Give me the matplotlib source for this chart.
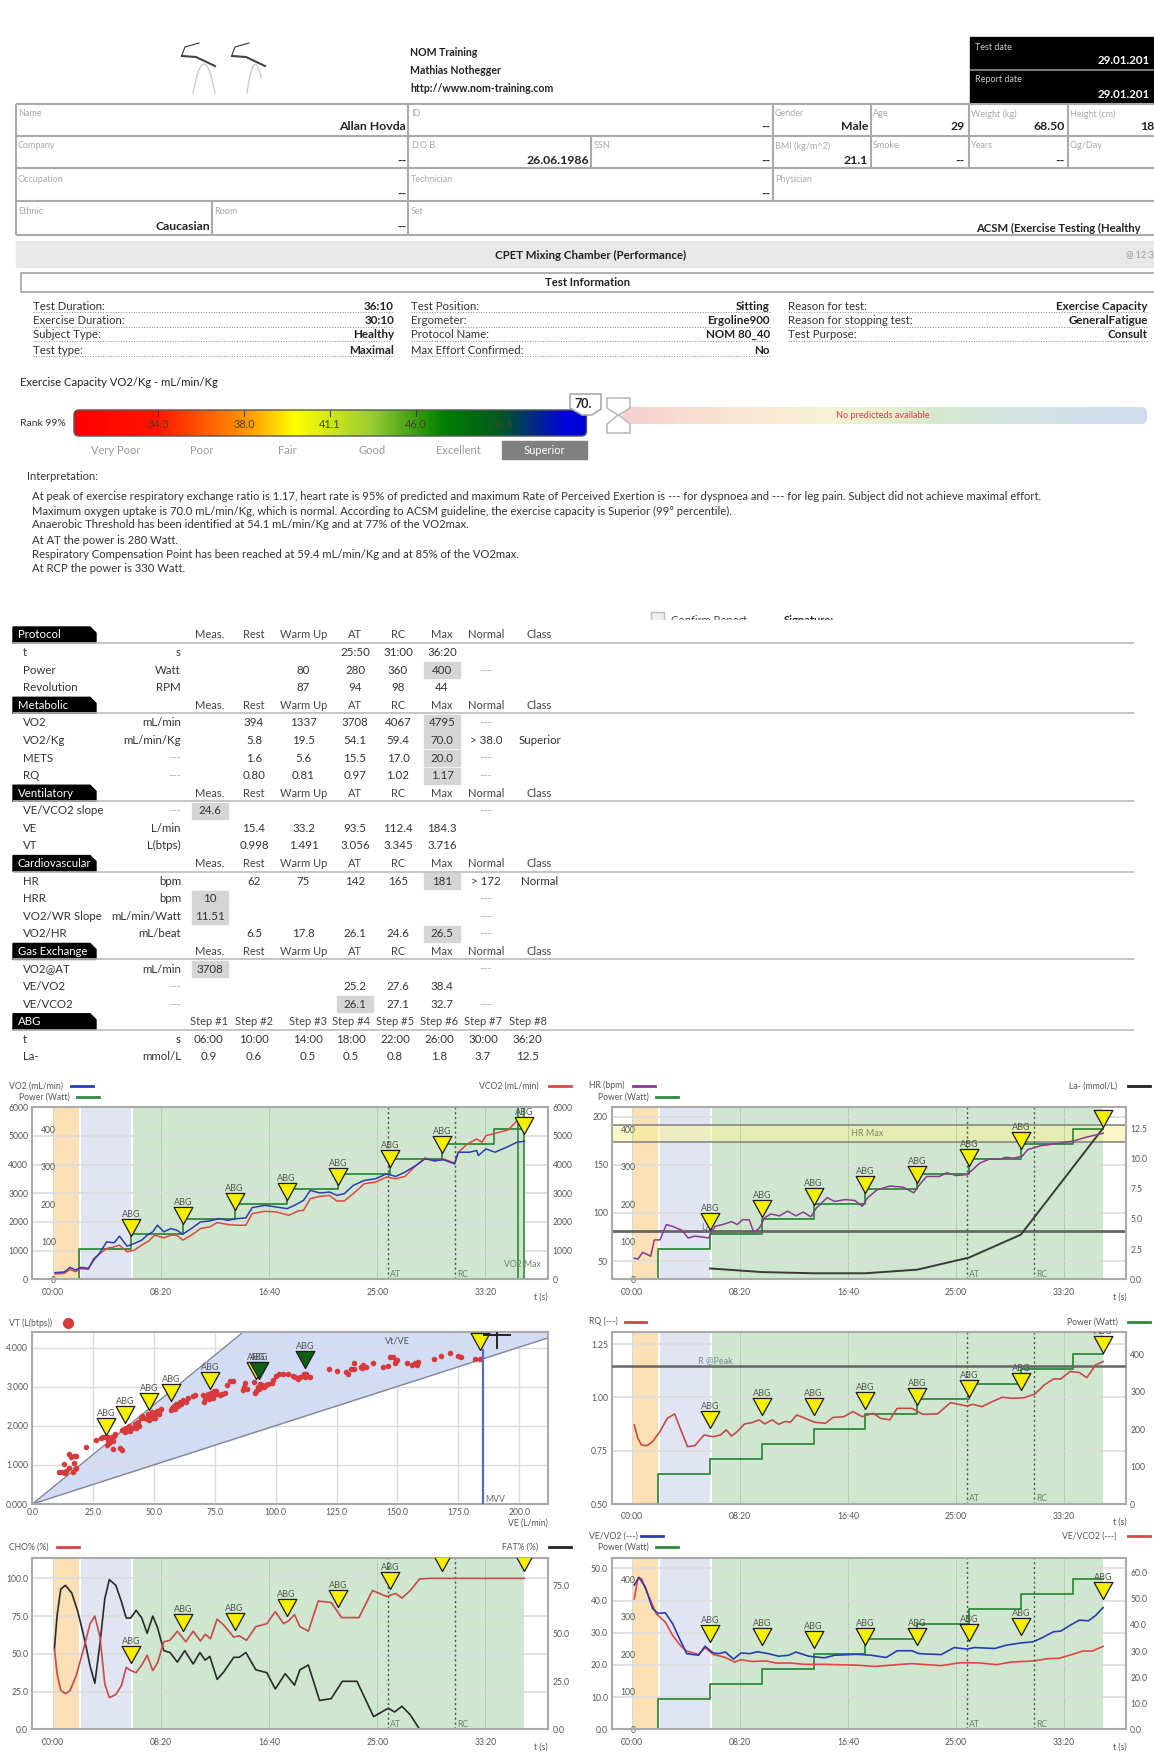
import numpy as np
import matplotlib
matplotlib.use("Agg")
import matplotlib.pyplot as plt
from matplotlib.colors import LinearSegmentedColormap
from matplotlib.patches import FancyBboxPatch, Polygon, Rectangle

plt.rcParams['font.family'] = ['Lato', 'Liberation Sans', 'DejaVu Sans']

# ---- report data
col_names = ["Meas.", "Rest", "Warm Up", "AT", "RC", "Max", "Normal", "Class"]
protocol_rows = [
    ("t", "s", ["", "", "", "25:50", "31:00", "36:20", "", ""], []),
    ("Power", "Watt", ["", "", "80", "280", "360", "400", "---", ""], [5]),
    ("Revolution", "RPM", ["", "", "87", "94", "98", "44", "", ""], []),
]
metabolic_rows = [
    ("VO2", "mL/min", ["", "394", "1337", "3708", "4067", "4795", "---", ""], [5]),
    ("VO2/Kg", "mL/min/Kg", ["", "5.8", "19.5", "54.1", "59.4", "70.0", "> 38.0", "Superior"], [5]),
    ("METS", "---", ["", "1.6", "5.6", "15.5", "17.0", "20.0", "---", ""], [5]),
    ("RQ", "---", ["", "0.80", "0.81", "0.97", "1.02", "1.17", "---", ""], [5]),
]
ventilatory_rows = [
    ("VE/VCO2 slope", "---", ["24.6", "", "", "", "", "", "---", ""], [0]),
    ("VE", "L/min", ["", "15.4", "33.2", "93.5", "112.4", "184.3", "", ""], []),
    ("VT", "L(btps)", ["", "0.998", "1.491", "3.056", "3.345", "3.716", "", ""], []),
]
cardio_rows = [
    ("HR", "bpm", ["", "62", "75", "142", "165", "181", "> 172", "Normal"], [5]),
    ("HRR", "bpm", ["10", "", "", "", "", "", "---", ""], [0]),
    ("VO2/WR Slope", "mL/min/Watt", ["11.51", "", "", "", "", "", "---", ""], [0]),
    ("VO2/HR", "mL/beat", ["", "6.5", "17.8", "26.1", "24.6", "26.5", "---", ""], [5]),
]
gas_rows = [
    ("VO2@AT", "mL/min", ["3708", "", "", "", "", "", "---", ""], [0]),
    ("VE/VO2", "---", ["", "", "", "25.2", "27.6", "38.4", "", ""], []),
    ("VE/VCO2", "---", ["", "", "", "26.1", "27.1", "32.7", "---", ""], [3]),
]
sections = [("Protocol", protocol_rows), ("Metabolic", metabolic_rows), ("Ventilatory", ventilatory_rows),
            ("Cardiovascular", cardio_rows), ("Gas Exchange", gas_rows)]
abg_steps = ["Step #1", "Step #2", "Step #3", "Step #4", "Step #5", "Step #6", "Step #7", "Step #8"]
abg_clock = ["06:00", "10:00", "14:00", "18:00", "22:00", "26:00", "30:00", "36:20"]
abg_la_text = ["0.9", "0.6", "0.5", "0.5", "0.8", "1.8", "3.7", "12.5"]

interpretation = [
    "At peak of exercise respiratory exchange ratio is 1.17, heart rate is 95% of predicted and maximum Rate of Perceived Exertion is --- for dyspnoea and --- for leg pain. Subject did not achieve maximal effort.",
    "Maximum oxygen uptake is 70.0 mL/min/Kg, which is normal. According to ACSM guideline, the exercise capacity is Superior (99° percentile).",
    "Anaerobic Threshold has been identified at 54.1 mL/min/Kg and at 77% of the VO2max.",
    "At AT the power is 280 Watt.",
    "Respiratory Compensation Point has been reached at 59.4 mL/min/Kg and at 85% of the VO2max.",
    "At RCP the power is 330 Watt.",
]
rank_ticks = ["34.3", "38.0", "41.1", "46.0", "50.6"]
rank_names = ["Very Poor", "Poor", "Fair", "Good", "Excellent", "Superior"]

# ---- chart data
abg_t = [360, 600, 840, 1080, 1320, 1560, 1800, 2180]
abg_la = [0.9, 0.6, 0.5, 0.5, 0.8, 1.8, 3.7, 12.5]
power_t = [120, 120, 360, 600, 840, 1080, 1320, 1560, 1800, 2040, 2180]
power_w = [0, 80, 120, 160, 200, 240, 280, 320, 360, 400, 400]

vo2_t = [9, 52, 78, 103, 129, 163, 188, 214, 248, 282, 307, 342, 376, 410, 435, 461, 483, 512, 546, 572, 600, 640, 682, 725, 767, 810, 853, 892, 921, 980, 1032, 1083, 1117, 1159, 1190, 1236, 1279, 1313, 1347, 1389, 1440, 1492, 1543, 1585, 1628, 1679, 1721, 1764, 1807, 1858, 1875, 1926, 1960, 1968, 2003, 2045, 2105, 2147, 2181]
vo2 = [231, 255, 417, 324, 417, 382, 671, 903, 1308, 1273, 1505, 1157, 1250, 1366, 1539, 1655, 1887, 1655, 1771, 1713, 1574, 1771, 2002, 2037, 2118, 2060, 2118, 2141, 2500, 2581, 2523, 2465, 2581, 2755, 3102, 3009, 3044, 2928, 2986, 3275, 3449, 3507, 3680, 3588, 3738, 3970, 4201, 4143, 4167, 4028, 4433, 4433, 4491, 4317, 4549, 4433, 4630, 4780, 4815]
vco2_t = [9, 52, 78, 103, 129, 163, 188, 222, 248, 282, 307, 342, 376, 410, 444, 469, 512, 546, 572, 600, 640, 682, 725, 759, 810, 853, 892, 921, 980, 1032, 1091, 1134, 1159, 1190, 1236, 1279, 1313, 1347, 1389, 1440, 1492, 1543, 1585, 1628, 1679, 1721, 1764, 1807, 1858, 1875, 1917, 1960, 1985, 2003, 2045, 2105, 2147, 2181]
vco2 = [185, 208, 347, 266, 370, 347, 729, 926, 1076, 1134, 1192, 961, 1019, 1192, 1343, 1539, 1447, 1539, 1539, 1366, 1539, 1771, 1829, 1979, 1910, 1887, 1887, 2292, 2373, 2350, 2234, 2384, 2407, 2813, 2894, 2928, 2731, 2731, 2986, 3333, 3391, 3565, 3507, 3588, 3970, 4236, 4120, 4201, 4051, 4433, 4722, 4896, 4780, 5012, 5093, 5208, 5532, 5590]

hr_t = [9, 26, 48, 68, 85, 102, 128, 158, 187, 230, 259, 290, 324, 354, 383, 418, 460, 486, 511, 542, 562, 588, 613, 642, 682, 719, 758, 792, 827, 852, 903, 937, 988, 1031, 1065, 1091, 1133, 1193, 1253, 1304, 1329, 1363, 1423, 1457, 1500, 1551, 1576, 1610, 1653, 1704, 1730, 1764, 1806, 1832, 1892, 1960, 2045, 2105, 2181]
hr = [53, 52, 59, 57, 55, 72, 72, 88, 86, 82, 74, 76, 75, 74, 86, 88, 91, 88, 93, 93, 80, 84, 95, 99, 97, 102, 97, 101, 96, 105, 116, 112, 114, 113, 107, 116, 124, 128, 127, 121, 129, 138, 138, 142, 139, 140, 145, 152, 156, 156, 158, 157, 159, 166, 170, 172, 175, 179, 183]

rq_t = [9, 26, 43, 68, 94, 128, 162, 196, 222, 256, 290, 332, 375, 409, 435, 460, 486, 520, 554, 588, 613, 648, 678, 707, 733, 762, 801, 844, 895, 929, 980, 1022, 1065, 1116, 1150, 1193, 1227, 1295, 1346, 1414, 1474, 1551, 1576, 1619, 1662, 1713, 1764, 1815, 1866, 1909, 1951, 1985, 2028, 2071, 2105, 2147, 2181]
rq = [.871, .808, .777, .774, .793, .84, .902, .923, .855, .769, .774, .824, .816, .824, .848, .819, .84, .876, .882, .895, .876, .895, .874, .887, .884, .918, .902, .884, .879, .906, .91, .934, .91, .926, .902, .895, .949, .949, .921, .923, .976, .96, .968, .957, .978, 1.001, .996, .999, 1.017, 1.059, 1.087, 1.087, 1.122, 1.117, 1.093, 1.153, 1.169]

cho_t = [6, 18, 35, 57, 78, 108, 146, 171, 193, 217, 239, 260, 290, 316, 338, 359, 384, 410, 435, 461, 483, 512, 541, 575, 614, 648, 682, 704, 728, 759, 790, 836, 861, 895, 938, 989, 1028, 1066, 1091, 1117, 1142, 1181, 1227, 1287, 1335, 1415, 1478, 1543, 1585, 1614, 1653, 1696, 1738, 2181]
cho = [53.6, 37, 26, 23.6, 25.6, 36, 56, 70, 75, 61, 30, 21, 23, 29, 41, 39, 37.5, 42.6, 49, 39, 44, 58, 59, 65, 58, 65, 58.5, 63, 60, 73, 69, 61, 62, 59, 68, 70, 78, 70, 72, 76, 68, 65, 85, 84, 74, 74, 92, 88, 90, 87, 92, 99.6, 100, 100]
fat_t = [6, 18, 35, 57, 86, 115, 146, 171, 193, 217, 239, 260, 290, 316, 338, 359, 384, 410, 435, 461, 483, 512, 541, 575, 609, 648, 679, 704, 725, 759, 790, 836, 861, 892, 938, 989, 1028, 1074, 1117, 1142, 1181, 1233, 1287, 1338, 1406, 1483, 1551, 1580, 1614, 1653, 1696, 1738]
fat = [42, 59, 73, 75, 71, 61, 46.5, 33, 24, 45, 68, 78, 75, 66.5, 58, 58, 62, 58, 50, 59, 53, 41, 40, 35, 41, 34, 40, 36, 38, 26, 30, 37.5, 37.5, 40, 31, 29.5, 21, 29, 23, 31, 33.5, 15, 16, 25, 25, 6.6, 11, 9, 12, 7.5, 0, 0]

vevo2_t = [9, 31, 60, 94, 119, 153, 187, 222, 252, 307, 337, 375, 400, 431, 469, 503, 545, 579, 630, 678, 724, 758, 818, 890, 937, 1040, 1108, 1176, 1227, 1295, 1329, 1431, 1491, 1551, 1585, 1679, 1730, 1798, 1858, 1900, 1951, 1985, 2028, 2071, 2113, 2147, 2181]
vevo2 = [44.8, 47.2, 44.2, 37.5, 36, 36.2, 32.8, 27.7, 23.5, 23, 25.8, 23.7, 23.5, 24, 21.8, 23.7, 23.5, 24.1, 23.5, 22.7, 23, 24, 22.7, 22.2, 23, 23.3, 23, 22.3, 24.4, 24.4, 23.5, 23.2, 25.4, 24.9, 25.4, 25.1, 26.1, 26.8, 27.2, 28.5, 30.3, 30.5, 32.3, 33.9, 33.7, 35.4, 37.8]
vevco2_t = [9, 26, 43, 68, 111, 153, 187, 222, 252, 307, 337, 375, 426, 474, 503, 554, 622, 665, 733, 801, 886, 937, 1040, 1125, 1227, 1295, 1431, 1517, 1602, 1687, 1755, 1858, 1926, 1977, 2037, 2088, 2130, 2181]
vevco2 = [50, 58, 57.7, 52.6, 44.3, 41.1, 36, 32.2, 30, 28.7, 31.3, 28.7, 27.7, 25.8, 26.7, 26, 26.2, 25.4, 25.4, 24.9, 24.9, 24.8, 24.6, 24.1, 24.8, 25.2, 24.4, 25.5, 25.5, 24.8, 25.8, 26.2, 27.1, 27.2, 28.7, 30, 30, 31.8]

ve_pts = [11, 12, 13, 13.5, 14, 15, 15, 16, 16.5, 17, 17, 17.5, 18, 18, 22, 26, 28, 29, 30, 30.5, 31, 31, 31.5, 32, 32, 32.5, 33, 33, 33.5, 34, 36, 37, 37, 37.5, 38, 38.5, 39, 39.5, 40, 40, 41, 42, 42.5, 43, 43.5, 44, 44.5, 45, 46, 47, 47.5, 48, 48.5, 49, 49, 50, 50.5, 51, 52, 52.5, 53, 57, 57.5, 58, 58.5, 59, 60, 60.5, 61, 62, 63, 64, 66, 67, 70, 70.5, 71, 72, 72.5, 73, 73.5, 74, 74.5, 75, 75.5, 76, 77, 78, 79, 80, 81, 82.5, 86.5, 87, 88, 87.5, 91, 91.5, 92, 92.5, 93, 93.5, 94, 94.5, 95, 96, 97, 98.5, 99, 100, 101.5, 103, 105, 107, 108, 109, 110, 111, 111.5, 112, 112.5, 113, 114, 122, 125, 129, 129.5, 131, 132, 132, 135, 135.5, 136, 137, 140, 144, 146, 147, 148, 149, 149.5, 150, 154, 156, 157, 158, 158.5, 165, 168, 171.5, 175, 176, 182, 184]
vt_pts = [.82, .83, 1.03, .8, .85, 1.27, .92, 1.2, .82, 1.05, 1.22, .9, .92, 1.23, 1.46, 1.64, 1.7, 1.72, 1.72, 1.5, 1.62, 1.72, 1.55, 1.6, 1.68, 1.72, 1.62, 1.4, 1.75, 1.8, 1.42, 1.37, 1.88, 1.93, 1.85, 1.95, 1.9, 2.0, 1.87, 1.95, 1.95, 2.05, 1.95, 2.0, 2.1, 2.0, 2.2, 2.25, 2.2, 2.18, 2.3, 2.15, 2.25, 2.35, 2.2, 2.3, 2.2, 2.38, 2.3, 2.4, 2.42, 2.4, 2.45, 2.5, 2.42, 2.55, 2.5, 2.6, 2.55, 2.65, 2.62, 2.72, 2.75, 2.78, 2.78, 2.6, 2.7, 2.8, 2.68, 2.75, 2.85, 2.72, 2.9, 2.8, 2.88, 2.82, 2.78, 2.8, 2.85, 3.05, 3.15, 3.15, 2.92, 3.0, 2.95, 3.1, 3.12, 2.85, 2.9, 3.0, 2.95, 3.08, 3.0, 3.05, 2.98, 3.05, 3.08, 3.1, 3.18, 3.28, 3.32, 3.33, 3.33, 3.28, 3.25, 3.2, 3.25, 3.28, 3.32, 3.25, 3.32, 3.28, 3.25, 3.45, 3.4, 3.38, 3.33, 3.45, 3.6, 3.45, 3.5, 3.47, 3.55, 3.5, 3.6, 3.5, 3.53, 3.75, 3.75, 3.6, 3.65, 3.68, 3.6, 3.55, 3.6, 3.55, 3.63, 3.72, 3.78, 3.85, 3.78, 3.75, 3.7, 3.72]
abg_ve = [30.3, 38, 48, 57, 73, 92, 184]
abg_vt = [1.76, 2.06, 2.4, 2.64, 2.93, 3.2, 3.93]
mark_ve = [93.3, 112]
mark_vt = [3.2, 3.47]

# tip heights of the ABG triangles, read on each chart's left axis
tips_vo2 = [1516, 1921, 2407, 2755, 3275, 3912, 4410, 5069]
tips_hr = [82, 96, 108.5, 121, 131, 148.6, 167, 190]
tips_rq = [.855, .918, .918, .946, .965, 1.004, 1.035, 1.211]
tips_cho = [44, 65, 66, 75, 81, 92.7, 105, 105]
tips_ve = [27.2, 26.1, 25.1, 26.1, 26.1, 27.5, 29.2, 40.6]

TICK = '#555555'
GRID = '#dcdcdc'
GREEN = '#2f8a3c'
BLUE = '#2a3db0'
RED = '#e04545'
W, H = 1154, 1760
TRI = [(0, 0), (-.55, 1), (.55, 1), (0, 0)]

fig = plt.figure(figsize=(W / 100, H / 100), dpi=100, facecolor='white')
page = fig.add_axes([0, 0, 1, 1], zorder=0)
page.set_xlim(0, W)
page.set_ylim(H, 0)
page.axis('off')


def txt(x, y, s, size=8.3, color='#333333', ha='left', weight='normal', **kw):
    return page.text(x, y, s, fontsize=size, color=color, ha=ha, va='center', weight=weight, **kw)


def rule(x0, y0, x1, y1, color='#aaaaaa', lw=1.5, **kw):
    page.plot([x0, x1], [y0, y1], color=color, lw=lw, solid_capstyle='butt', **kw)


# ---- logo
for xs, ys in [([193, 206, 215], [93, 65, 93]), ([247, 254, 261], [93, 65, 78])]:
    c = np.polyfit(xs, ys, 2)
    xx = np.linspace(xs[0], xs[-1], 30)
    page.plot(xx, np.polyval(c, xx), color='#cccccc', lw=1)
for x0 in [182, 232]:
    page.plot([x0 + 17, x0 + 3, x0], [43, 47, 55], color='#333333', lw=.8)
    page.plot([x0, x0 + 14, x0 + 33], [56, 57, 66], color='#444444', lw=1.5)

# ---- header
for y, s in zip([53, 71, 89], ["NOM Training", "Mathias Nothegger", "http://www.nom-training.com"]):
    txt(410, y, s, size=7.6, color='#222222', weight='bold')
page.add_patch(Rectangle((970, 37), 190, 66, color='black'))
rule(970, 70, W, 70, color='#777777', lw=1.5)
txt(975, 48, "Test date", size=6.5, color='#cccccc')
txt(975, 80, "Report date", size=6.5, color='#cccccc')
txt(1098, 60, "29.01.201", size=8.3, color='white', weight='bold')
txt(1098, 94, "29.01.201", size=8.3, color='white', weight='bold')

for y in [104, 136, 168, 201, 235]:
    rule(16, y, W, y)
rule(16, 104, 16, 235)
for y0, y1, xs in [(104, 136, [408, 773, 871, 969, 1068]), (136, 168, [408, 591, 773, 871, 969, 1068]),
                   (168, 201, [408, 773]), (201, 235, [212, 408])]:
    for x in xs:
        rule(x, y0, x, y1)

cells = [
    (114, 127, [(18, "Name", 406, "Allan Hovda"), (411, "ID", 770, "--"), (775, "Gender", 868, "Male"),
                (873, "Age", 965, "29"), (971, "Weight (kg)", 1065, "68.50"), (1070, "Height (cm)", 1154, "18")]),
    (146, 161, [(18, "Company", 406, "--"), (411, "D.O.B.", 589, "26.06.1986"), (594, "SSN", 770, "--"),
                (775, "BMI (kg/m^2)", 868, "21.1"), (873, "Smoke", 965, "--"), (971, "Years", 1065, "--"),
                (1070, "Cig/Day", 1150, "")]),
    (179, 194, [(18, "Occupation", 406, "--"), (411, "Technician", 770, "--"), (775, "Physician", 1150, "")]),
    (212, 227, [(18, "Ethnic", 210, "Caucasian"), (214, "Room", 406, "--"), (411, "Set", 1150, "")]),
]
for ly, vy, row in cells:
    for lx, label, vx, value in row:
        txt(lx, ly, label, size=6.5, color='#aaaaaa')
        if value:
            txt(vx, vy, value, size=8.8, color='#222222', ha='right', weight='bold')
txt(976, 228, "ACSM (Exercise Testing (Healthy", size=8.1, color='#222222', weight='bold')

page.add_patch(Rectangle((16, 241), W, 26, color='#e8e8e8'))
txt(591, 255, "CPET Mixing Chamber (Performance)", size=8.3, ha='center', color='#222222', weight='bold')
txt(1126, 255, "@ 12:3", size=6.5, color='#999999')
page.add_patch(Rectangle((21, 273), W, 19, fc='white', ec='#aaaaaa', lw=1.3))
txt(588, 283, "Test Information", size=8.2, ha='center', color='#222222', weight='bold')

info_cols = [
    (33, 394, [("Test Duration:", "36:10"), ("Exercise Duration:", "30:10"), ("Subject Type:", "Healthy"), ("Test type:", "Maximal")]),
    (411, 770, [("Test Position:", "Sitting"), ("Ergometer:", "Ergoline900"), ("Protocol Name:", "NOM 80_40"), ("Max Effort Confirmed:", "No")]),
    (788, 1148, [("Reason for test:", "Exercise Capacity"), ("Reason for stopping test:", "GeneralFatigue"), ("Test Purpose:", "Consult")]),
]
for x0, x1, rows in info_cols:
    for y, (k, v) in zip([306, 321, 335, 350], rows):
        txt(x0, y, k, size=8.2)
        txt(x1, y, v, size=8.4, ha='right', color='#222222', weight='bold')
        page.plot([x0, x1], [y + 6.5, y + 6.5], color='#888888', lw=.7, ls=':')

# ---- exercise capacity bar
txt(20, 382, "Exercise Capacity VO2/Kg - mL/min/Kg", size=8.1, color='#222222')
txt(20, 424, "Rank 99%", size=7.5, color='#333333')
rank_cmap = LinearSegmentedColormap.from_list('rank', [(0, '#ff0000'), (.16, '#ff1500'), (.34, '#ff9a00'), (.43, '#ffff00'),
                                                       (.58, '#9acd32'), (.72, '#008000'), (.83, '#005a20'), (.96, '#0000e0'), (1, '#0000d0')])
img = page.imshow(np.linspace(0, 1, 256).reshape(1, -1), cmap=rank_cmap, extent=(74, 586.5, 436, 410), aspect='auto', zorder=2)
rank_box = FancyBboxPatch((76, 412), 508.5, 22, boxstyle='round,pad=2,rounding_size=5', fc='none', ec='#555555', lw=1, zorder=3)
page.add_patch(rank_box)
img.set_clip_path(rank_box)
for x, s in zip([158, 244, 330, 416, 502], rank_ticks):
    page.plot([x, x], [411, 416], color='#333333', lw=.7, zorder=3)
    txt(x, 424, s, size=7.8, ha='center', color='#444422', zorder=4)
page.add_patch(Rectangle((502, 441), 84.5, 18, color='#808080'))
for x, s in zip([115.5, 201.6, 287, 372, 458, 544], rank_names):
    txt(x, 451, s, size=8, ha='center', color='white' if s == "Superior" else '#999999')
pred_cmap = LinearSegmentedColormap.from_list('pred', ['#f6cfd0', '#f9e4d0', '#f7f3d6', '#d5e9d0', '#d3e3e8', '#cfdcec'])
img2 = page.imshow(np.linspace(0, 1, 256).reshape(1, -1), cmap=pred_cmap, extent=(622, 1148, 424, 407), aspect='auto', zorder=2)
pred_box = FancyBboxPatch((625, 409), 520, 13, boxstyle='round,pad=2,rounding_size=6', fc='none', ec='none', zorder=2)
page.add_patch(pred_box)
img2.set_clip_path(pred_box)
txt(883, 416, "No predicteds available", size=6.6, ha='center', color='#d94040', zorder=4)
page.add_patch(Polygon([(607, 398), (630, 398), (630, 408), (619, 415), (630, 424), (630, 433), (607, 433), (607, 424), (618, 415), (607, 408)],
                       fc='white', ec='#bbbbbb', lw=1.2, zorder=5))
page.add_patch(Polygon([(570, 394), (601, 394), (601, 409), (592, 415), (582, 415), (570, 408)], fc='white', ec='#aaaaaa', lw=1.2, zorder=5))
txt(583, 404, "70.", size=9, ha='center', color='#222222', weight='bold', zorder=6)
page.set_xlim(0, W)
page.set_ylim(H, 0)

txt(27, 477, "Interpretation:", size=8)
for y, s in zip([496, 511, 525, 540, 554, 569], interpretation):
    txt(32, y, s, size=8.1)

# ---- signature strip, cut off like the scanned page
page.add_patch(Rectangle((651, 612), 13, 10, fc='#eeeeee', ec='#bbbbbb', lw=1))
txt(671, 621, "Confirm Report", size=8, color='#444444')
txt(784, 621, "Signature:", size=8, color='#222222', weight='bold')
page.add_patch(Rectangle((640, 620), 400, 8, color='white', zorder=5))

# ---- results table
col_x = [210, 254, 303.5, 355, 398, 442, 486, 539.6]
ROW = 17.58
y = 635.0


def table_header(y, name, heads, xs):
    page.add_patch(Polygon([(13, y + 8), (13, y - 8), (90, y - 8), (96, y - 2), (96, y + 8)], color='black', zorder=2))
    rule(13, y + 8, 1134, y + 8, color='#bbbbbb', lw=1.2)
    txt(18, y, name, size=8.2, color='white', zorder=3)
    for x, s in zip(xs, heads):
        txt(x, y, s, size=8, ha='center', color='#444444')


for name, rows in sections:
    table_header(y, name, col_names, col_x)
    y += ROW
    for label, unit, vals, marked in rows:
        txt(23, y, label)
        txt(181, y, unit, ha='right', color='#aaaaaa' if unit == '---' else '#333333')
        for i in marked:
            page.add_patch(Rectangle((col_x[i] - 18, y - 8), 36, 16, color='#d5d5d5', zorder=1))
        for x, v in zip(col_x, vals):
            if v:
                txt(x, y, v, ha='center', color='#aaaaaa' if v == '---' else '#333333', zorder=3)
        y += ROW
step_x = [209, 254, 307.6, 351, 395, 439, 483, 527.6]
table_header(y, "ABG", abg_steps, step_x)
y += ROW
txt(23, y, "t")
txt(181, y, "s", ha='right')
for x, v in zip(step_x, abg_clock):
    txt(x, y, v, ha='center')
y += ROW
txt(23, y, "La-")
txt(181, y, "mmol/L", ha='right')
for x, v in zip(step_x, abg_la_text):
    txt(x, y, v, ha='center')


# ---- chart helpers
def px_axes(x0, y0, x1, y1, **kw):
    return fig.add_axes([x0 / W, 1 - y1 / H, (x1 - x0) / W, (y1 - y0) / H], **kw)


def style_ticks(a, size=6.2):
    a.tick_params(axis='both', length=0, labelsize=size, labelcolor=TICK, pad=3)


def time_chart(box, ylim, yticks, ylabels, xlim, power='inner', right=None):
    # grid and phase bands sit on their own axes below every curve
    bg = px_axes(*box, zorder=0.5)
    bg.patch.set_visible(False)
    bg.set_xlim(*xlim)
    bg.set_ylim(*ylim)
    bg.set_xticks([0, 500, 1000, 1500, 2000])
    bg.set_yticks(yticks)
    bg.tick_params(length=0, labelbottom=False, labelleft=False)
    bg.axvspan(5, 120, color='#fae0b4', lw=0, zorder=0)
    bg.axvspan(128, 360, color='#e0e5f1', lw=0, zorder=0)
    bg.axvspan(369, 2181, color='#cfe7cf', lw=0, zorder=0)
    bg.grid(True, axis='y', color=GRID, lw=1.2, zorder=1)
    bg.grid(True, axis='x', color='#8fae8f', lw=.6, alpha=.5, zorder=1)
    for s in bg.spines.values():
        s.set_visible(False)

    ax = px_axes(*box, zorder=5)
    ax.patch.set_visible(False)
    ax.set_xlim(*xlim)
    ax.set_ylim(*ylim)
    ax.set_yticks(yticks)
    ax.set_yticklabels(ylabels)
    ax.set_xticks([0, 500, 1000, 1500, 2000])
    ax.set_xticklabels(["00:00", "08:20", "16:40", "25:00", "33:20"])
    style_ticks(ax)
    ax.tick_params(axis='x', pad=6)
    for s in ax.spines.values():
        s.set_color('#aaaaaa')
        s.set_linewidth(1.5)
    back = ax.twinx()
    back.set_zorder(1)
    back.set_ylim(0, 458)
    back.set_yticks([0, 100, 200, 300, 400])
    for s in back.spines.values():
        s.set_visible(False)
    style_ticks(back)
    if power == 'inner':
        back.yaxis.tick_left()
        back.tick_params(axis='y', pad=-17, length=0)
    elif power == 'right':
        back.yaxis.tick_right()
    else:
        back.set_yticks([])
    rax = None
    if right is not None:
        rax = ax.twinx()
        rax.set_zorder(2)
        rax.set_ylim(*right[0])
        rax.set_yticks(right[1])
        rax.set_yticklabels(right[2])
        for s in rax.spines.values():
            s.set_visible(False)
        style_ticks(rax)
    for t, name in [(1550, "AT"), (1860, "RC")]:
        ax.axvline(t, color='#3c5c3c', lw=1, ls=(0, (1.5, 2)))
        ax.text(t + 10, .03, name, transform=ax.get_xaxis_transform(), fontsize=6.2, color='#6b806b', va='center')
    return ax, back, rax, bg


def power_steps(back):
    back.plot(power_t, power_w, color=GREEN, lw=1.3, drawstyle='steps-post', zorder=3)


def abg_marks(ax, xs, ys, color='#f6f000', label=True):
    ax.plot(xs, ys, ls='none', marker=TRI, ms=24.5, mfc=color, mec='#1c1c1c', mew=.9, zorder=8)
    if label:
        for x, v in zip(xs, ys):
            ax.annotate("ABG", (x, v), xytext=(0, 15.5), textcoords='offset points', fontsize=6.5, color=TICK,
                        ha='center', va='center', annotation_clip=False, clip_on=True, zorder=9)


def legend_item(text_x, y, text, x0, x1, color, ha='left', marker=False):
    txt(text_x, y, text, size=6.2, color=TICK, ha=ha)
    if marker:
        page.plot([x0], [y], 'o', color=color, ms=7)
    else:
        page.plot([x0, x1], [y, y], color=color, lw=2)


XL_LEFT = (-96, 2292)
XL_RIGHT = (-94, 2287)

# ---- VO2 / VCO2
right6k = [0, 1000, 2000, 3000, 4000, 5000, 6000]
ax, back, rax, bg = time_chart((32.4, 1107.3, 548.4, 1279.3), (0, 5980), right6k, [str(v) for v in right6k], XL_LEFT,
                               right=((0, 5980), right6k, [str(v) for v in right6k]))
power_steps(back)
ax.plot(vo2_t, vo2, color=BLUE, lw=1.1, zorder=4)
ax.plot(vco2_t, vco2, color=RED, lw=1.1, zorder=3)
bg.axvline(2150, color=GREEN, lw=1.2, zorder=2)
bg.axvline(2181, color=GREEN, lw=1.2, zorder=2)
ax.text(2088, 0.085, "VO2 Max", transform=ax.get_xaxis_transform(), fontsize=6.2, color='#6b806b', va='center')
abg_marks(ax, abg_t, tips_vo2)
legend_item(9, 1085.7, "VO2 (mL/min)", 71, 93, BLUE)
legend_item(19, 1097, "Power (Watt)", 77, 99, GREEN)
legend_item(538.5, 1085.7, "VCO2 (mL/min)", 549, 571, RED, ha='right')
txt(548, 1297, "t (s)", size=6.2, color=TICK, ha='right')

# ---- HR / La
hr_ticks = [50, 100, 150, 200]
la_ticks = [0, 2.5, 5, 7.5, 10, 12.5]
ax, back, rax, bg = time_chart((612, 1107.3, 1126, 1279.3), (31, 210), hr_ticks, [str(v) for v in hr_ticks], XL_RIGHT,
                               right=((0, 14.25), la_ticks, ["0.0", "2.5", "5.0", "7.5", "10.0", "12.5"]))
bg.axhspan(174, 191.5, color='#f6f19a', alpha=.55, lw=0, zorder=0.5)
bg.axhline(174, color='#888888', lw=1.2, zorder=2)
bg.axhline(191.5, color='#888888', lw=1.2, zorder=2)
ax.text(1090, 183, "HR Max", fontsize=6.5, color='#7b8b6b', ha='center', va='center')
power_steps(back)
rax.axhline(4, color='#666666', lw=2)
rax.plot(abg_t, abg_la, color='#3a3a3a', lw=1.4)
ax.plot(hr_t, hr, color='#8b3a94', lw=1.1, zorder=4)
ax.text(320, 85, "LA", fontsize=6.5, color='#7b8b9b', va='center')
abg_marks(ax, abg_t, tips_hr)
legend_item(589, 1085.7, "HR (bpm)", 633, 655, '#8b3a94')
legend_item(598, 1097, "Power (Watt)", 656, 678, GREEN)
legend_item(1117, 1085.7, "La- (mmol/L)", 1128, 1150, '#222222', ha='right')
txt(1127, 1297, "t (s)", size=6.2, color=TICK, ha='right')

# ---- VT vs VE
sc = px_axes(32.4, 1332.3, 548.4, 1504, zorder=5)
sc.set_xlim(0, 212)
sc.set_ylim(0, 4.39)
ve_line = [0, 86.5, 212]
sc.fill_between(ve_line, [0, 1.73, 4.25], [0, 4.39, 4.39], color='#d2dcf5', lw=0, zorder=0)
sc.plot([0, 86.5], [0, 4.39], color='#7f8794', lw=1)
sc.plot([0, 212], [0, 4.25], color='#7f8794', lw=1)
sc.set_xticks([0, 25, 50, 75, 100, 125, 150, 175, 200])
sc.set_xticklabels(["0.0", "25.0", "50.0", "75.0", "100.0", "125.0", "150.0", "175.0", "200.0"])
sc.set_yticks([0, 1, 2, 3, 4])
sc.set_yticklabels(["0.000", "1.000", "2.000", "3.000", "4.000"])
style_ticks(sc)
sc.grid(True, color=GRID, lw=1)
sc.set_axisbelow(True)
for s in sc.spines.values():
    s.set_color('#aaaaaa')
    s.set_linewidth(1.5)
sc.scatter(ve_pts, vt_pts, s=16, color='#d8393a', lw=0, zorder=4)
sc.plot([185, 185], [0, 3.93], color='#5a66d0', lw=1.6, zorder=5)
sc.text(186, .12, "MVV", fontsize=6.2, color='#666666', va='center')
sc.text(150, 4.18, "Vt/VE", fontsize=6.5, color='#555555', ha='center', va='center')
abg_marks(sc, abg_ve, abg_vt)
abg_marks(sc, mark_ve, mark_vt, color='#0f5f14')
sc.plot([191], [4.31], marker='+', ms=20, mew=1.4, color='#222222', zorder=10)
legend_item(9, 1323, "VT (L(btps))", 68, 68, '#d8393a', marker=True)
txt(548, 1522.7, "VE (L/min)", size=6.2, color=TICK, ha='right')

# ---- RQ
ax, back, rax, bg = time_chart((612, 1332.3, 1126, 1504), (.5, 1.306), [.5, .75, 1, 1.25], ["0.50", "0.75", "1.00", "1.25"], XL_RIGHT, power='right')
power_steps(back)
ax.axhline(1.148, color='#666666', lw=1.8, zorder=3)
ax.text(305, 1.172, "R @Peak", fontsize=6.5, color='#7b8b9b', va='center')
ax.plot(rq_t, rq, color='#c8494b', lw=1.2, zorder=4)
abg_marks(ax, abg_t, tips_rq)
legend_item(589, 1321.7, "RQ (---)", 625, 646, '#c8494b')
legend_item(1118, 1321.7, "Power (Watt)", 1128, 1150, GREEN, ha='right')
txt(1127, 1522, "t (s)", size=6.2, color=TICK, ha='right')

# ---- CHO / FAT
cho_ticks = [0, 25, 50, 75, 100]
fat_ticks = [0, 25, 50, 75]
ax, back, rax, bg = time_chart((32.4, 1557.7, 548.4, 1729.3), (0, 113.7), cho_ticks, ["0.0", "25.0", "50.0", "75.0", "100.0"], XL_LEFT,
                               power=None, right=((0, 89.4), fat_ticks, ["0.0", "25.0", "50.0", "75.0"]))
ax.plot(cho_t, cho, color='#c8494b', lw=1.2, zorder=4)
rax.plot(fat_t, fat, color='#2a2a2a', lw=1.2)
abg_marks(ax, abg_t, tips_cho)
legend_item(9, 1546.7, "CHO% (%)", 57, 79, '#c8494b')
legend_item(538.5, 1546.7, "FAT% (%)", 549, 571, '#222222', ha='right')
txt(548, 1747, "t (s)", size=6.2, color=TICK, ha='right')

# ---- VE/VO2, VE/VCO2
ve_ticks = [0, 10, 20, 30, 40, 50]
ve_right = [0, 10, 20, 30, 40, 50, 60]
ax, back, rax, bg = time_chart((612, 1557.7, 1126, 1729.3), (0, 53.3), ve_ticks, ["0.0", "10.0", "20.0", "30.0", "40.0", "50.0"], XL_RIGHT,
                               right=((0, 65.8), ve_right, ["0.0", "10.0", "20.0", "30.0", "40.0", "50.0", "60.0"]))
power_steps(back)
ax.plot(vevo2_t, vevo2, color=BLUE, lw=1.2, zorder=4)
rax.plot(vevco2_t, vevco2, color=RED, lw=1.2)
abg_marks(ax, abg_t, tips_ve)
legend_item(589, 1535.7, "VE/VO2 (---)", 641, 663, BLUE)
legend_item(598, 1547, "Power (Watt)", 656, 678, GREEN)
legend_item(1117, 1535.7, "VE/VCO2 (---)", 1128, 1150, RED, ha='right')
txt(1127, 1747, "t (s)", size=6.2, color=TICK, ha='right')

fig.savefig('out.png', dpi=100)
